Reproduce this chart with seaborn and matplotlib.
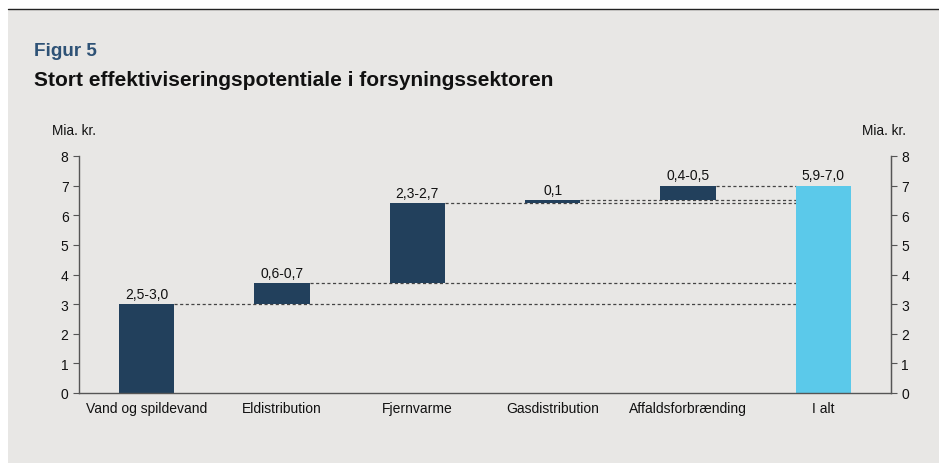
import matplotlib
matplotlib.use("Agg")
import matplotlib.pyplot as plt
import seaborn as sns
import pandas as pd

# data
categories = ["Vand og spildevand", "Eldistribution", "Fjernvarme",
              "Gasdistribution", "Affaldsforbrænding", "I alt"]
bar_bottom = [0.0, 3.0, 3.7, 6.4, 6.5, 0.0]
bar_height = [3.0, 0.7, 2.7, 0.1, 0.5, 7.0]
bar_labels = ["2,5-3,0", "0,6-0,7", "2,3-2,7", "0,1", "0,4-0,5", "5,9-7,0"]

navy = "#22405c"
light = "#5bc9ea"
bg = "#e8e7e5"
width = 0.41

sns.set_style("white")
plt.rcParams["font.family"] = ["Liberation Sans", "DejaVu Sans"]

df = pd.DataFrame({"kategori": categories, "hoejde": bar_height})

fig = plt.figure(figsize=(9.39, 4.64), dpi=100)
fig.patch.set_facecolor("white")
# grey panel + black rule on top
fig.patches.append(plt.Rectangle((8 / 939, 0), 1, 1 - 11 / 464, transform=fig.transFigure,
                                 facecolor=bg, edgecolor="none", zorder=-10))
fig.add_artist(plt.Line2D([8 / 939, 1], [1 - 10 / 464, 1 - 10 / 464], color="#222222", lw=1.0))

ax = fig.add_axes([79 / 939, 1 - 394 / 464, (891 - 79) / 939, (394 - 157) / 464])
ax.set_facecolor("none")
sns.barplot(data=df, x="kategori", y="hoejde", bottom=bar_bottom, color=navy,
            width=width, saturation=1, ax=ax, errorbar=None, linewidth=0, zorder=2)
ax.patches[-1].set_facecolor(light)

# dashed connectors from each step's top to the total bar
tops = [b + h for b, h in zip(bar_bottom, bar_height)]
last = len(categories) - 1
for i in range(last):
    ax.plot([i + width / 2, last - width / 2], [tops[i], tops[i]], color="#444444",
            lw=0.9, ls=(0, (2.5, 2)), zorder=1)

for i, lab in enumerate(bar_labels):
    ax.text(i, tops[i] + 0.12, lab, ha="center", va="bottom", fontsize=10, color="#111111")

ax.set_xlim(-0.5, 5.5)
ax.set_ylim(0, 8)
ax.set_yticks(range(0, 9))
ax.set_xlabel("")
ax.set_ylabel("")
ax.tick_params(axis="x", which="major", length=0, labelsize=10, pad=6, colors="#111111")
ax.set_xticks([i - 0.5 for i in range(len(categories) + 1)], minor=True)
ax.tick_params(axis="x", which="minor", length=4, direction="out", color="#555555")
ax.tick_params(axis="y", length=4, direction="out", labelsize=10, color="#555555", labelcolor="#111111")
for s in ["left", "right", "bottom"]:
    ax.spines[s].set_color("#555555")
    ax.spines[s].set_linewidth(1.0)
ax.spines["top"].set_visible(False)

ax2 = ax.twinx()
ax2.set_ylim(0, 8)
ax2.set_yticks(range(0, 9))
ax2.tick_params(axis="y", length=4, direction="out", labelsize=10, color="#555555", labelcolor="#111111")
for s in ["left", "top", "bottom"]:
    ax2.spines[s].set_visible(False)
ax2.spines["right"].set_color("#555555")

fig.text(34 / 939, 1 - 52 / 464, "Figur 5", fontsize=13.6, fontweight="bold",
         color="#2e5276", va="center")
fig.text(34 / 939, 1 - 81 / 464, "Stort effektiviseringspotentiale i forsyningssektoren",
         fontsize=15, fontweight="bold", color="#111111", va="center")
fig.text(52 / 939, 1 - 131 / 464, "Mia. kr.", fontsize=9.8, color="#111111", va="center")
fig.text(906 / 939, 1 - 131 / 464, "Mia. kr.", fontsize=9.8, color="#111111", va="center", ha="right")

fig.savefig("out.png", dpi=100, facecolor=fig.get_facecolor())
